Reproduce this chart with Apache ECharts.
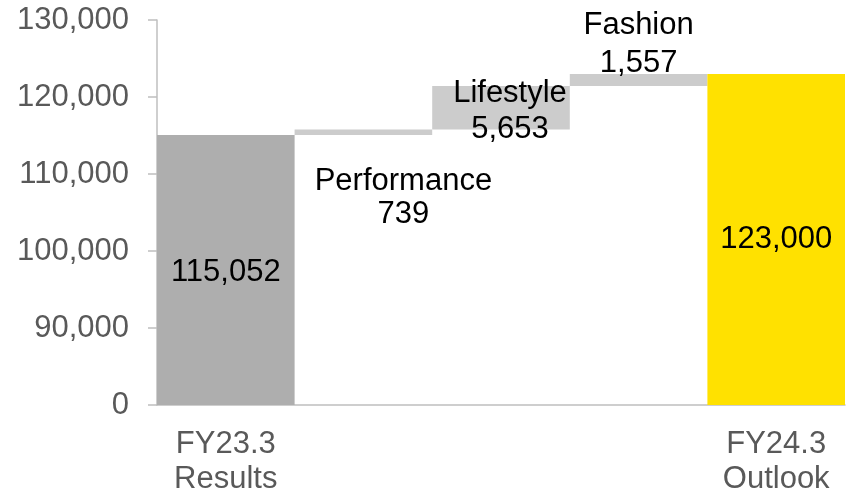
<!DOCTYPE html>
<html>
<head>
<meta charset="utf-8">
<script src="https://cdn.jsdelivr.net/npm/echarts@6/dist/echarts.min.js"></script>
<style>
  html, body { margin: 0; padding: 0; background: #fff; }
  #chart { width: 850px; height: 494px; }
</style>
</head>
<body>
<div id="chart"></div>
<script>
// waterfall: FY23.3 -> segment deltas -> FY24.3 outlook
var categories = ['FY23.3\nResults', '', '', '', 'FY24.3\nOutlook']
var segmentNames = ['', 'Performance', 'Lifestyle', 'Fashion', '']
var startValue = 115052
var deltas = [739, 5653, 1557]
var endValue = 123000
var yTickLabels = ['0', '90,000', '100,000', '110,000', '120,000', '130,000']

var fmt = function (v) { return v.toLocaleString('en-US') }

// invisible base + visible part
var baseData = [0]
var valueData = [startValue]
var running = startValue
for (var i = 0; i < deltas.length; i++) {
  baseData.push(running)
  valueData.push(deltas[i])
  running += deltas[i]
}
baseData.push(0)
valueData.push(endValue)

var colors = ['#AEAEAE', '#CCCCCC', '#CCCCCC', '#CCCCCC', '#FFE100']
var labelCfg = [
  { position: 'inside', offset: [0, 2] },
  { position: 'bottom', distance: 28, offset: [40, 2] },
  { position: 'inside', lineHeight: 36, offset: [9, 4] },
  { position: 'top', distance: 0, lineHeight: 38, offset: [0, 9] },
  { position: 'inside' }
]

var chart = echarts.init(document.getElementById('chart'))
chart.setOption({
  animation: false,
  grid: { left: 157, right: 5, top: 20, bottom: 89, outerBoundsMode: 'none', containLabel: false },
  xAxis: {
    type: 'category',
    data: categories,
    axisTick: { show: false },
    axisLine: { lineStyle: { color: '#BFBFBF', width: 1.5 } },
    axisLabel: {
      color: '#595959', fontSize: 31, lineHeight: 35, margin: 22,
      fontFamily: 'Liberation Sans, Arial, sans-serif', interval: 0
    }
  },
  yAxis: {
    type: 'value',
    min: 80000,
    max: 130000,
    interval: 10000,
    splitLine: { show: false },
    axisLine: { show: true, lineStyle: { color: '#BFBFBF', width: 1.5 } },
    axisTick: { show: true, length: 9, lineStyle: { color: '#BFBFBF', width: 1.5 } },
    axisLabel: {
      color: '#595959', fontSize: 31, margin: 28,
      fontFamily: 'Liberation Sans, Arial, sans-serif',
      formatter: function (v) { return yTickLabels[(v - 80000) / 10000] }
    }
  },
  series: [
    {
      type: 'bar',
      stack: 'wf',
      barCategoryGap: '0%',
      itemStyle: { color: 'transparent' },
      data: baseData,
      silent: true
    },
    {
      type: 'bar',
      stack: 'wf',
      barCategoryGap: '0%',
      data: valueData.map(function (v, i) {
        return {
          value: v,
          itemStyle: { color: colors[i] },
          label: Object.assign({
            show: true,
            color: '#000',
            fontSize: 31,
            lineHeight: 33,
            fontFamily: 'Liberation Sans, Arial, sans-serif',
            formatter: segmentNames[i] ? segmentNames[i] + '\n' + fmt(v) : fmt(v)
          }, labelCfg[i])
        }
      })
    }
  ]
})
</script>
</body>
</html>
